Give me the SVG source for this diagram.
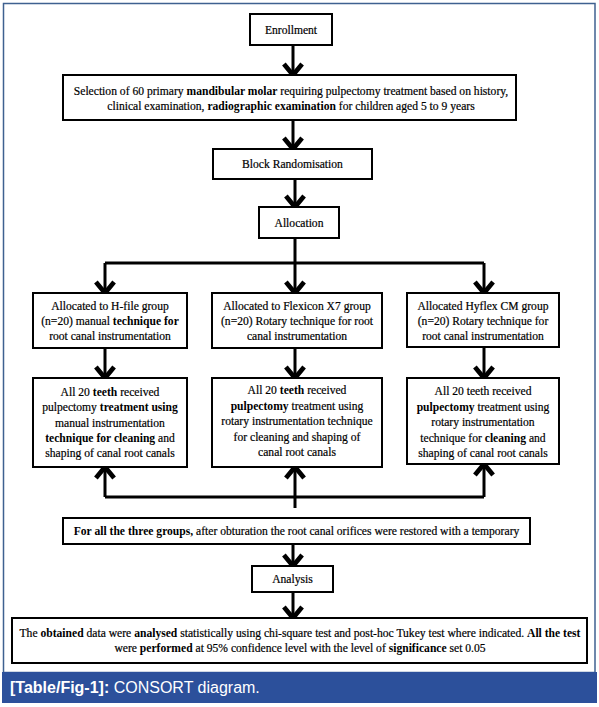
<svg xmlns="http://www.w3.org/2000/svg" width="599" height="707" viewBox="0 0 599 707">
<style>
.box{fill:#fff;stroke:#000;stroke-width:2}
.t{font-family:"Liberation Serif","Times New Roman",serif;font-size:11.6px;fill:#000;stroke:#000;stroke-width:0.2;text-anchor:middle}
.b{font-weight:bold;stroke-width:0}
.ln{fill:none;stroke:#000;stroke-width:3}
.cap{font-family:"Liberation Sans",Arial,sans-serif;font-size:16px;fill:#fff}
</style>
<defs>
<marker id="ah" markerUnits="userSpaceOnUse" markerWidth="26" markerHeight="26" viewBox="-14 -10 16 20" refX="-1.5" refY="0" orient="auto" overflow="visible">
<path d="M-10,-7 L-1.5,0 L-10,7" fill="none" stroke="#000" stroke-width="3.6" stroke-linejoin="miter"/>
</marker>
</defs>
<rect x="0" y="0" width="599" height="707" fill="#fff"/>
<rect x="3.5" y="3.5" width="591.5" height="669" fill="#fff" stroke="#3f6190" stroke-width="1.5"/>
<rect x="2" y="672" width="595" height="31" fill="#2c509b"/>
<text class="cap" x="10" y="693"><tspan font-weight="bold">[Table/Fig-1]:</tspan> CONSORT diagram.</text>

<g id="connectors">
<path class="ln" d="M293,45 V75" marker-end="url(#ah)"/>
<path class="ln" d="M293,120 V149" marker-end="url(#ah)"/>
<path class="ln" d="M295,179 V207" marker-end="url(#ah)"/>
<path class="ln" d="M295,238 V263 M105,263 H484"/>
<path class="ln" d="M105,263 V293" marker-end="url(#ah)"/>
<path class="ln" d="M295,263 V293" marker-end="url(#ah)"/>
<path class="ln" d="M484,263 V293" marker-end="url(#ah)"/>
<path class="ln" d="M105,348 V378" marker-end="url(#ah)"/>
<path class="ln" d="M295,348 V378" marker-end="url(#ah)"/>
<path class="ln" d="M484,347 V378" marker-end="url(#ah)"/>
<path class="ln" d="M105,497 H484"/>
<path class="ln" d="M105,497 V467" marker-end="url(#ah)"/>
<path class="ln" d="M484,497 V464" marker-end="url(#ah)"/>
<path class="ln" d="M295,508 V467" marker-end="url(#ah)"/>
<path class="ln" d="M293,544 V566" marker-end="url(#ah)"/>
<path class="ln" d="M293,592 V618" marker-end="url(#ah)"/>
</g>

<g id="enrollment">
<rect class="box" x="250" y="14" width="82" height="31"/>
<text class="t" x="291" y="34">Enrollment</text>
</g>

<g id="selection">
<rect class="box" x="63" y="75" width="453" height="45"/>
<text class="t" x="291" y="95">Selection of 60 primary <tspan class="b">mandibular molar</tspan> requiring pulpectomy treatment based on history,</text>
<text class="t" x="291" y="110">clinical examination, <tspan class="b">radiographic examination</tspan> for children aged 5 to 9 years</text>
</g>

<g id="randomisation">
<rect class="box" x="213" y="149" width="159" height="30"/>
<text class="t" x="292.5" y="168">Block Randomisation</text>
</g>

<g id="allocation">
<rect class="box" x="259" y="207" width="80" height="31"/>
<text class="t" x="299" y="227">Allocation</text>
</g>

<g id="group-hfile">
<rect class="box" x="33" y="293" width="154" height="55"/>
<text class="t" x="110" y="310">Allocated to H-file group</text>
<text class="t" x="110" y="325">(n=20) manual <tspan class="b">technique for</tspan></text>
<text class="t" x="110" y="340">root canal instrumentation</text>
</g>

<g id="group-flexicon">
<rect class="box" x="212" y="293" width="170" height="55"/>
<text class="t" x="297" y="310">Allocated to Flexicon X7 group</text>
<text class="t" x="297" y="325">(n=20) Rotary technique for root</text>
<text class="t" x="297" y="340">canal instrumentation</text>
</g>

<g id="group-hyflex">
<rect class="box" x="407" y="293" width="152" height="54"/>
<text class="t" x="483" y="310">Allocated Hyflex CM group</text>
<text class="t" x="483" y="325">(n=20) Rotary technique for</text>
<text class="t" x="483" y="340">root canal instrumentation</text>
</g>

<g id="treatment-hfile">
<rect class="box" x="33" y="378" width="154" height="89"/>
<text class="t" x="110" y="396">All 20 <tspan class="b">teeth</tspan> received</text>
<text class="t" x="110" y="411">pulpectomy <tspan class="b">treatment using</tspan></text>
<text class="t" x="110" y="427">manual instrumentation</text>
<text class="t" x="110" y="442"><tspan class="b">technique for cleaning</tspan> and</text>
<text class="t" x="110" y="457">shaping of canal root canals</text>
</g>

<g id="treatment-flexicon">
<rect class="box" x="212" y="378" width="170" height="89"/>
<text class="t" x="297" y="394">All 20 <tspan class="b">teeth</tspan> received</text>
<text class="t" x="297" y="410"><tspan class="b">pulpectomy</tspan> treatment using</text>
<text class="t" x="297" y="425">rotary instrumentation technique</text>
<text class="t" x="297" y="441">for cleaning and shaping of</text>
<text class="t" x="297" y="456">canal root canals</text>
</g>

<g id="treatment-hyflex">
<rect class="box" x="407" y="378" width="152" height="86"/>
<text class="t" x="483" y="395">All 20 teeth received</text>
<text class="t" x="483" y="411"><tspan class="b">pulpectomy</tspan> treatment using</text>
<text class="t" x="483" y="426">rotary instrumentation</text>
<text class="t" x="483" y="442">technique for <tspan class="b">cleaning</tspan> and</text>
<text class="t" x="483" y="457">shaping of canal root canals</text>
</g>

<g id="restoration">
<rect class="box" x="63" y="518" width="467" height="26"/>
<text class="t" x="296.5" y="535"><tspan class="b">For all the three groups,</tspan> after obturation the root canal orifices were restored with a temporary</text>
</g>

<g id="analysis">
<rect class="box" x="252" y="566" width="81" height="26"/>
<text class="t" x="292.5" y="583">Analysis</text>
</g>

<g id="statistics">
<rect class="box" x="12" y="618" width="575" height="45"/>
<text class="t" x="300" y="637">The <tspan class="b">obtained</tspan> data were <tspan class="b">analysed</tspan> statistically using chi-square test and post-hoc Tukey test where indicated. <tspan class="b">All the test</tspan></text>
<text class="t" x="300" y="652">were <tspan class="b">performed</tspan> at 95% confidence level with the level of <tspan class="b">significance</tspan> set 0.05</text>
</g>
</svg>
